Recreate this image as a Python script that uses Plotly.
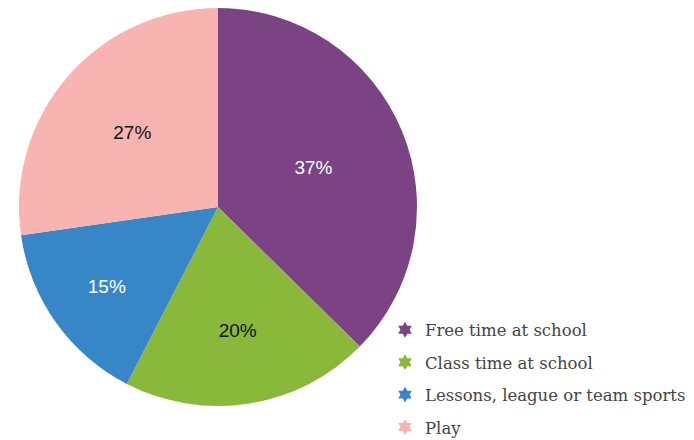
import plotly.graph_objects as go

categories = ["Free time at school", "Class time at school", "Lessons, league or team sports", "Play"]
values = [37, 20, 15, 27]
colors = ["#7b4384", "#8ab83a", "#3787c8", "#f8b4b1"]
text_colors = ["#ffffff", "#111111", "#ffffff", "#111111"]

W, H = 694, 440

fig = go.Figure()
fig.add_trace(go.Pie(
    labels=categories, values=values, sort=False, direction="clockwise", rotation=0,
    marker=dict(colors=colors, line=dict(width=0)),
    texttemplate="%{value}%", textposition="inside", insidetextorientation="horizontal",
    textfont=dict(family="Liberation Sans, Arial, sans-serif", size=19, color=text_colors),
    showlegend=False, hoverinfo="label+value",
    domain=dict(x=[11/W, 409/W], y=[1-398/H, 1.0]),
))
for i, (name, c) in enumerate(zip(categories, colors)):
    fig.add_trace(go.Scatter(
        x=[None], y=[None], mode="markers", name=name, legendgroup=f"g{i}",
        marker=dict(symbol="hexagram", size=14, color=c),
    ))

fig.update_layout(
    width=W, height=H, margin=dict(l=0, r=0, t=0, b=0),
    paper_bgcolor="white", plot_bgcolor="white",
    xaxis=dict(visible=False), yaxis=dict(visible=False),
    legend=dict(x=377/W, y=3.5/H, xanchor="left", yanchor="bottom",
                font=dict(family="DejaVu Serif, serif", size=16.5, color="#444444"),
                bgcolor="rgba(0,0,0,0)", tracegroupgap=8, itemsizing="constant"),
)
fig.write_html("out.html")
